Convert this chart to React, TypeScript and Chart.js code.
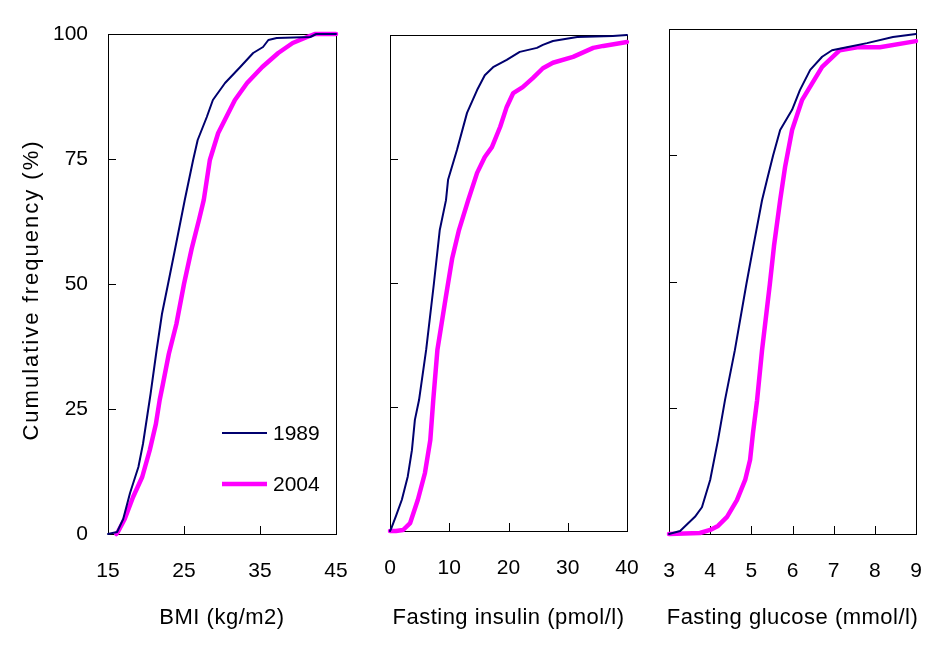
import React, { useEffect, useRef } from 'react';
import { Chart, registerables } from 'chart.js';

Chart.register(...registerables);

// ---------- data ----------
const seriesLabels = ['1989', '2004'];
const seriesColors = ['#00006e', '#ff00ff'];
const seriesWidths = [2, 4.5];

const yTickValues = [0, 25, 50, 75, 100];
const yTitle = 'Cumulative frequency (%)';

const panelTitles = ['BMI (kg/m2)', 'Fasting insulin (pmol/l)', 'Fasting glucose (mmol/l)'];

const bmiRange = [15, 45, 10];
const bmiX1989 = [15.0, 16.2, 17.0, 17.9, 19.0, 19.6, 20.2, 20.6, 21.4, 22.1, 22.9, 23.8, 25.1, 26.2, 26.8, 28.0, 28.8, 30.4, 32.4, 34.1, 35.4, 36.1, 37.2, 41.6, 42.4, 45.0];
const bmiP1989 = [0, 0.4, 3, 8.2, 13.4, 18, 24, 28, 36.8, 44, 50, 56.8, 66.8, 74.8, 78.8, 83.4, 86.8, 90.2, 93.4, 96.2, 97.4, 98.8, 99.2, 99.4, 100, 100];
const bmiX2004 = [16.1, 16.3, 17.2, 18.3, 19.5, 20.5, 21.3, 21.8, 22.2, 23.0, 24.0, 25.0, 26.0, 27.0, 27.6, 28.4, 29.5, 31.7, 33.3, 35.3, 37.4, 39.3, 41.2, 42.2, 45.0];
const bmiP2004 = [0, 0.4, 3, 7.4, 11.4, 16.8, 22, 26.8, 29.8, 36, 42, 50, 57, 63, 66.8, 74.8, 80.2, 86.8, 90.2, 93.4, 96.2, 98.2, 99.4, 100, 100];

const insulinRange = [0, 40, 10];
const insulinX1989 = [0, 0.2, 1.0, 2.0, 3.0, 3.7, 4.2, 4.9, 6.1, 7.4, 8.4, 9.45, 9.8, 11.3, 13.0, 14.7, 16.0, 17.4, 19.7, 21.9, 24.8, 25.8, 27.5, 31.6, 37.6, 40];
const insulinP1989 = [0, 0.5, 3, 6.3, 11, 16.3, 22.4, 26.4, 36.5, 49.8, 60.7, 66.7, 70.8, 76.8, 84.3, 88.9, 91.9, 93.5, 95.0, 96.6, 97.4, 98.0, 98.8, 99.6, 99.8, 100];
const insulinX2004 = [0, 1.0, 2.2, 3.4, 4.7, 5.9, 6.8, 7.3, 8.0, 9.4, 10.5, 11.6, 13.2, 14.7, 16.0, 17.2, 18.6, 19.7, 20.8, 22.4, 24.1, 25.8, 27.5, 30.9, 34.3, 36.0, 40];
const insulinP2004 = [0, 0, 0.2, 1.6, 6.3, 11.7, 18.3, 26.4, 36.5, 47, 55, 60.5, 66.7, 72.2, 75.4, 77.4, 81.5, 85.5, 88.3, 89.5, 91.3, 93.3, 94.4, 95.6, 97.4, 97.8, 98.6];

const glucoseRange = [3, 9, 1];
const glucoseX1989 = [3.0, 3.27, 3.63, 3.8, 4.0, 4.19, 4.36, 4.6, 4.88, 5.05, 5.26, 5.38, 5.53, 5.7, 5.99, 6.18, 6.43, 6.72, 6.96, 7.32, 7.81, 8.44, 9.0];
const glucoseP1989 = [0, 0.6, 3.4, 5.3, 10.7, 18.6, 26.5, 36.4, 49.5, 57, 66.1, 70.1, 75.0, 80.0, 84.0, 87.9, 91.9, 94.5, 95.8, 96.4, 97.2, 98.4, 99.0];
const glucoseX2004 = [3.0, 3.75, 4.0, 4.19, 4.41, 4.65, 4.85, 4.97, 5.04, 5.14, 5.26, 5.45, 5.55, 5.7, 5.82, 5.99, 6.23, 6.72, 7.15, 7.57, 8.12, 9.0];
const glucoseP2004 = [0, 0.2, 0.8, 1.6, 3.4, 6.7, 10.7, 14.7, 20.0, 26.5, 36.4, 49.5, 57, 66.1, 72.7, 80.0, 85.9, 92.5, 95.8, 96.4, 96.4, 97.6];

// ---------- layout ----------
const W = 941;
const H = 655;
const FONT = "'Liberation Sans', Arial, sans-serif";

const panels = [
  { range: bmiRange, xs: [bmiX1989, bmiX2004], ps: [bmiP1989, bmiP2004], title: panelTitles[0], area: { left: 108, top: 34, right: 336, bottom: 534 }, showY: true, legend: true },
  { range: insulinRange, xs: [insulinX1989, insulinX2004], ps: [insulinP1989, insulinP2004], title: panelTitles[1], area: { left: 390, top: 35, right: 627, bottom: 531 }, showY: false, legend: false },
  { range: glucoseRange, xs: [glucoseX1989, glucoseX2004], ps: [glucoseP1989, glucoseP2004], title: panelTitles[2], area: { left: 669, top: 29, right: 916, bottom: 534 }, showY: false, legend: false },
];

function makePlugin(p: any) {
  return {
    id: 'frame',
    beforeDatasetsDraw(chart: any) {
      const { ctx, chartArea: a, scales } = chart;
      ctx.save();
      ctx.strokeStyle = '#000';
      ctx.lineWidth = 1;
      ctx.strokeRect(Math.round(a.left) + 0.5, Math.round(a.top) + 0.5, Math.round(a.right - a.left), Math.round(a.bottom - a.top));
      const [mn, mx, st] = p.range;
      ctx.beginPath();
      for (let v = mn + st; v < mx - 1e-9; v += st) {
        const px = Math.round(scales.x.getPixelForValue(v)) + 0.5;
        ctx.moveTo(px, a.bottom);
        ctx.lineTo(px, a.bottom - 8);
      }
      yTickValues.slice(1, -1).forEach((v) => {
        const py = Math.round(scales.y.getPixelForValue(v)) + 0.5;
        ctx.moveTo(a.left, py);
        ctx.lineTo(a.left + 8, py);
      });
      ctx.stroke();
      ctx.restore();
    },
    afterDraw(chart: any) {
      const { ctx, chartArea: a } = chart;
      ctx.save();
      ctx.fillStyle = '#000';
      ctx.font = `22px ${FONT}`;
      ctx.textAlign = 'center';
      ctx.textBaseline = 'alphabetic';
      (ctx as any).letterSpacing = '0.5px';
      ctx.fillText(p.title, (a.left + a.right) / 2, 624);
      if (p.showY) {
        ctx.save();
        (ctx as any).letterSpacing = '2px';
        ctx.translate(38, 290);
        ctx.rotate(-Math.PI / 2);
        ctx.fillText(yTitle, 0, 0);
        ctx.restore();
      }
      if (p.legend) {
        (ctx as any).letterSpacing = '0px';
        ctx.font = `21px ${FONT}`;
        ctx.textAlign = 'left';
        const rows = [433, 484];
        seriesLabels.forEach((lab, i) => {
          ctx.strokeStyle = seriesColors[i];
          ctx.lineWidth = seriesWidths[i];
          ctx.beginPath();
          ctx.moveTo(222, rows[i]);
          ctx.lineTo(267, rows[i]);
          ctx.stroke();
          ctx.fillText(lab, 273, rows[i] + 7);
        });
      }
      ctx.restore();
    },
  };
}

export default function App() {
  const refs = [useRef<HTMLCanvasElement>(null), useRef<HTMLCanvasElement>(null), useRef<HTMLCanvasElement>(null)];

  useEffect(() => {
    const charts = panels.map((p, idx) => {
      const canvas = refs[idx].current as HTMLCanvasElement;
      const datasets = p.xs.map((xs: number[], i: number) => ({
        label: seriesLabels[i],
        data: xs.map((x, j) => ({ x, y: p.ps[i][j] })),
        borderColor: seriesColors[i],
        backgroundColor: seriesColors[i],
        borderWidth: seriesWidths[i],
        pointRadius: 0,
        tension: 0,
        fill: false,
        clip: false as any,
        borderCapStyle: 'round' as const,
        borderJoinStyle: 'round' as const,
      }));
      return new Chart(canvas, {
        type: 'line',
        data: { datasets },
        plugins: [makePlugin(p)],
        options: {
          animation: false,
          responsive: false,
          devicePixelRatio: 1,
          layout: { padding: { left: 0, top: p.area.top, right: W - p.area.right, bottom: 0 } },
          plugins: { legend: { display: false }, tooltip: { enabled: false } },
          scales: {
            x: {
              type: 'linear',
              min: p.range[0],
              max: p.range[1],
              ticks: { stepSize: p.range[2], autoSkip: false, padding: 0, color: '#000', font: { family: FONT, size: 21 } },
              grid: { display: false, drawTicks: true, tickLength: 25 },
              border: { display: false },
              afterFit: (s: any) => { s.height = H - p.area.bottom; },
            },
            y: {
              type: 'linear',
              min: 0,
              max: 100,
              ticks: { display: p.showY, stepSize: 25, padding: 0, color: '#000', font: { family: FONT, size: 21 } },
              grid: { display: false, drawTicks: true, tickLength: 20 },
              border: { display: false },
              afterFit: (s: any) => { s.width = p.area.left; },
            },
          },
        },
      });
    });
    return () => charts.forEach((c) => c.destroy());
  }, []);

  return (
    <div style={{ position: 'absolute', left: 0, top: 0, width: W, height: H, background: '#fff' }}>
      {refs.map((r, i) => (
        <canvas key={i} ref={r} width={W} height={H} style={{ position: 'absolute', left: 0, top: 0, width: W, height: H }} />
      ))}
    </div>
  );
}
